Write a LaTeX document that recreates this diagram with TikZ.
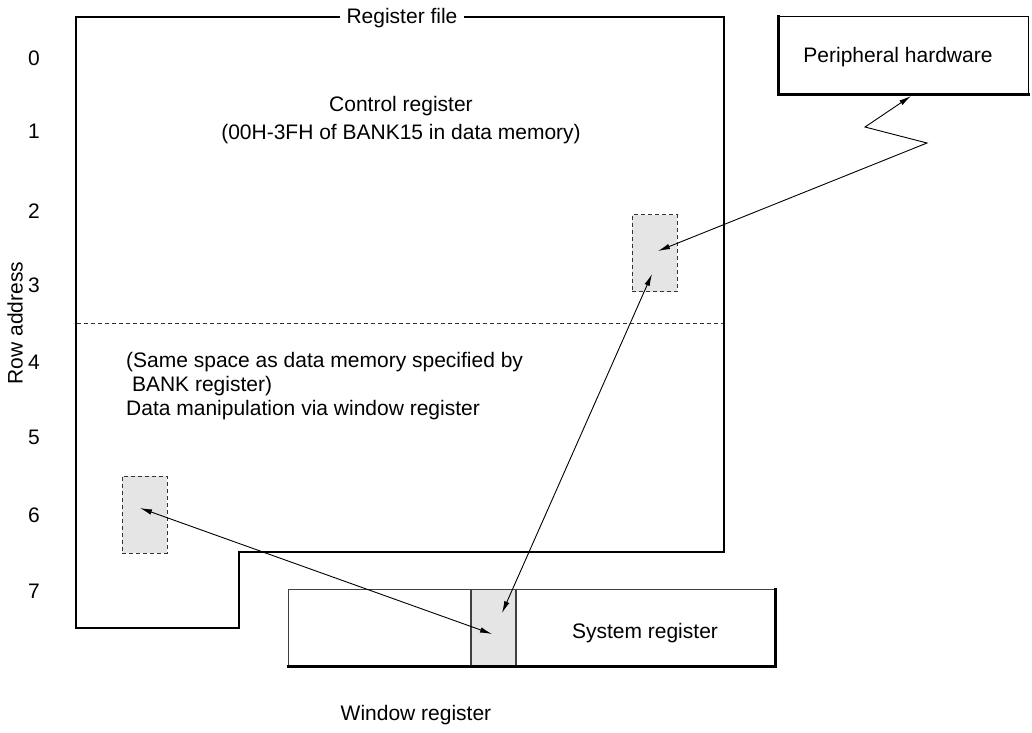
\documentclass[tikz,border=0pt]{standalone}
\usepackage{fontspec}
\setmainfont{Liberation Sans}
\usetikzlibrary{arrows.meta}
\tikzset{
  thick line/.style={line width=2.8pt, line cap=rect},
  thin line/.style={line width=1.1pt},
  graybox/.style={draw=black!80, dashed, dash pattern=on 4pt off 3pt, line width=0.9pt, fill=black!10, minimum width=45pt, minimum height=77pt, inner sep=0pt},
  txt/.style={inner sep=0pt, font=\fontsize{21}{25}\selectfont},
  conn/.style={line width=0.9pt, {Latex[length=12pt,width=5.5pt]}-{Latex[length=12pt,width=5.5pt]}},
}
\begin{document}
\begin{tikzpicture}[x=1pt,y=-1pt]
\useasboundingbox (0,0) rectangle (1032,732);
% register file outline
\draw[thin line] (239,628) -- (239,552) -- (724,552);
\draw[thick line] (239,628) -- (76,628) -- (76,17) -- (724,17) -- (724,552);
\node[txt, fill=white, inner xsep=7pt, inner ysep=2pt] (rf) at (402,18) {Register file};
% dashed separator
\draw[dashed, dash pattern=on 4pt off 3pt, line width=0.8pt, black!80] (77,323) -- (723,323);
% row address
\node[txt, rotate=90] (ra) at (15,323) {Row address};
\foreach \n/\y in {0/58,1/131,2/211,3/285,4/362,5/437,6/515,7/591}
  \node[txt] (r\n) at (34,\y) {\n};
% texts
\node[txt] (cr1) at (401,106) {Control register};
\node[txt] (cr2) at (401,134) {(00H-3FH of BANK15 in data memory)};
\node[txt, anchor=west] (s1) at (126,362) {(Same space as data memory specified by};
\node[txt, anchor=west] (s2) at (126,386) {\ BANK register)};
\node[txt, anchor=west] (s3) at (126,410) {Data manipulation via window register};
% peripheral hardware
\node[minimum width=249pt, minimum height=77pt, inner sep=0pt] (ph) at (903.5,55.5) {};
\draw[thin line] (ph.south east) -- (ph.north east) -- (ph.north west);
\draw[thick line] (ph.north west) -- (ph.south west) -- (ph.south east);
\node[txt] (pht) at (898,57) {Peripheral hardware};
% gray boxes
\node[graybox] (g1) at (654.5,253) {};
\node[graybox] (g2) at (144.5,514.5) {};
% window / system register
\node[minimum width=486pt, minimum height=76pt, inner sep=0pt] (sr) at (532,628) {};
\fill[black!10] (471,590) rectangle (516,666);
\draw[thin line, black!75] (471,590) -- (471,666) (516,590) -- (516,666);
\draw[thin line, black!75] (sr.south west) -- (sr.north west) -- (sr.north east);
\draw[thick line] (sr.north east) -- (sr.south east) -- (sr.south west);
\node[txt] (srt) at (645,633) {System register};
\node[txt] (wr) at (416,715) {Window register};
% connectors
\coordinate (a1) at (140,508);
\coordinate (a2) at (492,634);
\coordinate (b1) at (652,274);
\coordinate (b2) at (502,613);
\coordinate (c1) at (658,251);
\coordinate (c2) at (927,143);
\coordinate (c3) at (865,127);
\coordinate (c4) at (911,96);
\draw[conn] (a1) -- (a2);
\draw[conn] (b1) -- (b2);
\draw[conn] (c1) -- (c2) -- (c3) -- (c4);
\end{tikzpicture}
\end{document}
